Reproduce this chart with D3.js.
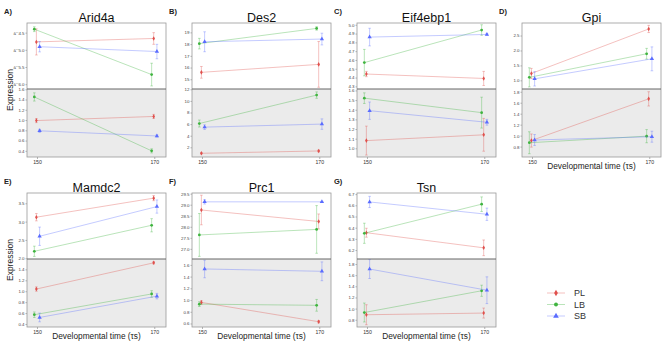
<html>
<head>
<script src="https://cdn.jsdelivr.net/npm/d3@7"></script>
<style>
  body { margin: 0; background: #fff; }
  text { font-family: "Liberation Sans", Arial, sans-serif; }
</style>
</head>
<body>
<script>
// panels, in reading order
var genes = ["Arid4a", "Des2", "Eif4ebp1", "Gpi", "Mamdc2", "Prc1", "Tsn"];
var panelLabels = ["A)", "B)", "C)", "D)", "E)", "F)", "G)"];
var times = [150, 170];
var groups = ["PL", "LB", "SB"];

// rows: PL, LB, SB ; columns: t=150, t=170
var arid4aTopMean = [[-4.77, -4.67], [-4.40, -5.72], [-4.91, -5.05]];
var arid4aTopErr  = [[0.38, 0.17], [0.07, 0.33], [0.15, 0.21]];
var arid4aBotMean = [[0.99, 1.07], [1.45, 0.40], [0.79, 0.69]];
var arid4aBotErr  = [[0.04, 0.04], [0.08, 0.04], [0.03, 0.02]];

var des2TopMean = [[15.59, 16.27], [18.04, 19.34], [18.2, 18.43]];
var des2TopErr  = [[0.5, 1.95], [0.45, 0.15], [0.85, 0.5]];
var des2BotMean = [[0.97, 1.37], [6.1, 11.0], [5.48, 6.0]];
var des2BotErr  = [[0.1, 0.15], [0.6, 0.55], [0.4, 0.9]];

var eif4ebp1TopMean = [[4.44, 4.39], [4.57, 4.94], [4.86, 4.89]];
var eif4ebp1TopErr  = [[0.03, 0.08], [0.15, 0.06], [0.1, 0.01]];
var eif4ebp1BotMean = [[1.08, 1.14], [1.52, 1.37], [1.39, 1.27]];
var eif4ebp1BotErr  = [[0.15, 0.17], [0.055, 0.16], [0.09, 0.03]];

var gpiTopMean = [[1.23, 2.72], [1.10, 1.89], [1.05, 1.72]];
var gpiTopErr  = [[0.17, 0.12], [0.32, 0.18], [0.24, 0.4]];
var gpiBotMean = [[0.91, 1.67], [0.87, 0.99], [0.92, 0.98]];
var gpiBotErr  = [[0.12, 0.13], [0.2, 0.12], [0.1, 0.1]];

var mamdc2TopMean = [[3.12, 3.64], [2.19, 2.9], [2.6, 3.41]];
var mamdc2TopErr  = [[0.1, 0.07], [0.14, 0.18], [0.25, 0.18]];
var mamdc2BotMean = [[1.04, 1.52], [0.57, 0.95], [0.52, 0.91]];
var mamdc2BotErr  = [[0.04, 0.02], [0.05, 0.06], [0.08, 0.05]];

var prc1TopMean = [[28.76, 28.24], [27.63, 27.88], [29.13, 29.13]];
var prc1TopErr  = [[0.67, 0.34], [0.97, 1.08], [0.1, 0.02]];
var prc1BotMean = [[0.96, 0.63], [0.93, 0.91], [1.53, 1.49]];
var prc1BotErr  = [[0.03, 0.02], [0.04, 0.1], [0.15, 0.16]];

var tsnTopMean = [[6.355, 6.22], [6.35, 6.61], [6.63, 6.52]];
var tsnTopErr  = [[0.04, 0.07], [0.09, 0.065], [0.05, 0.055]];
var tsnBotMean = [[0.89, 0.92], [0.93, 1.32], [1.71, 1.33]];
var tsnBotErr  = [[0.18, 0.09], [0.17, 0.1], [0.17, 0.24]];

// axis domains and tick labels per panel
var topDomains = [[-6.14, -4.22], [14.17, 19.8], [4.27, 5.02], [0.71, 2.92], [1.98, 3.78], [26.54, 29.53], [6.12, 6.71]];
var botDomains = [[0.28, 1.605], [0.33, 12.05], [0.91, 1.615], [0.61, 1.85], [0.345, 1.59], [0.54, 1.70], [0.67, 1.89]];
var topTicks = [[-6.0, -5.5, -5.0, -4.5], [15, 16, 17, 18, 19], [4.3, 4.4, 4.5, 4.6, 4.7, 4.8, 4.9, 5.0],
                [1.0, 1.5, 2.0, 2.5], [2.0, 2.5, 3.0, 3.5], [27.0, 27.5, 28.0, 28.5, 29.0, 29.5], [6.2, 6.3, 6.4, 6.5, 6.6, 6.7]];
var botTicks = [[0.4, 0.6, 0.8, 1.0, 1.2, 1.4, 1.6], [2, 4, 6, 8, 10, 12], [1.0, 1.1, 1.2, 1.3, 1.4, 1.5, 1.6],
                [0.8, 1.0, 1.2, 1.4, 1.6, 1.8], [0.4, 0.6, 0.8, 1.0, 1.2, 1.4], [0.6, 0.8, 1.0, 1.2, 1.4, 1.6], [0.8, 1.0, 1.2, 1.4, 1.6, 1.8]];
var tickFormats = [".1f", "d", ".1f", ".1f", ".1f", ".1f", ".1f"];

var topMeans = [arid4aTopMean, des2TopMean, eif4ebp1TopMean, gpiTopMean, mamdc2TopMean, prc1TopMean, tsnTopMean];
var topErrs  = [arid4aTopErr, des2TopErr, eif4ebp1TopErr, gpiTopErr, mamdc2TopErr, prc1TopErr, tsnTopErr];
var botMeans = [arid4aBotMean, des2BotMean, eif4ebp1BotMean, gpiBotMean, mamdc2BotMean, prc1BotMean, tsnBotMean];
var botErrs  = [arid4aBotErr, des2BotErr, eif4ebp1BotErr, gpiBotErr, mamdc2BotErr, prc1BotErr, tsnBotErr];

var colors = { PL: "#e0504c", LB: "#3fb43f", SB: "#5a6cff" };
var dodge = { PL: -0.1, LB: -0.45, SB: 0.45 };
var shapes = { PL: d3.symbolDiamond, LB: d3.symbolCircle, SB: d3.symbolTriangle };

var W = 666, H = 346;
var pw = 139, ph = 134, half = 66;

var svg = d3.select("body").append("svg")
  .attr("width", W).attr("height", H);

function drawHalf(g, x, y, means, errs) {
  groups.forEach(function(grp, gi) {
    var pts = times.map(function(t, ti) {
      return { t: t + dodge[grp], v: means[gi][ti], e: errs[gi][ti] };
    });
    var c = colors[grp];
    g.append("path")
      .datum(pts)
      .attr("fill", "none")
      .attr("stroke", c)
      .attr("stroke-opacity", 0.45)
      .attr("stroke-width", 0.8)
      .attr("d", d3.line().x(function(d) { return x(d.t); }).y(function(d) { return y(d.v); }));
    var eb = g.selectAll(null).data(pts).enter().append("g")
      .attr("stroke", c).attr("stroke-opacity", 0.5).attr("stroke-width", 0.7);
    eb.append("line")
      .attr("x1", function(d) { return x(d.t); }).attr("x2", function(d) { return x(d.t); })
      .attr("y1", function(d) { return y(d.v - d.e); }).attr("y2", function(d) { return y(d.v + d.e); });
    [-1, 1].forEach(function(s) {
      eb.append("line")
        .attr("x1", function(d) { return x(d.t) - 1.3; }).attr("x2", function(d) { return x(d.t) + 1.3; })
        .attr("y1", function(d) { return y(d.v + s * d.e); }).attr("y2", function(d) { return y(d.v + s * d.e); });
    });
    g.selectAll(null).data(pts).enter().append("path")
      .attr("transform", function(d) { return "translate(" + x(d.t) + "," + y(d.v) + ")"; })
      .attr("d", d3.symbol().type(shapes[grp]).size(grp === "SB" ? 8 : 6))
      .attr("fill", c);
  });
}

genes.forEach(function(gene, i) {
  var col = i % 4, row = Math.floor(i / 4);
  var left = 27 + 165 * col, top = 23 + 170 * row;
  var g = svg.append("g");

  var x = d3.scaleLinear().domain([148.3, 172]).range([left, left + pw]);
  var yTop = d3.scaleLinear().domain(topDomains[i]).range([top + half, top]);
  var yBot = d3.scaleLinear().domain(botDomains[i]).range([top + ph, top + half]);

  g.append("rect").attr("x", left).attr("y", top + half).attr("width", pw).attr("height", ph - half)
    .attr("fill", "#ebebeb");

  var f = d3.format(tickFormats[i]);
  var fmt = function(v) { return f(v).replace("\u2212", "-"); };
  [[yTop, topTicks[i]], [yBot, botTicks[i]]].forEach(function(p) {
    var ax = g.append("g").attr("transform", "translate(" + left + ",0)")
      .call(d3.axisLeft(p[0]).tickValues(p[1]).tickFormat(fmt).tickSize(1.5).tickPadding(1));
    ax.select(".domain").remove();
    ax.selectAll("line").attr("stroke", "#666").attr("stroke-width", 0.5);
    ax.selectAll("text").attr("font-size", 4.4).attr("fill", "#444").attr("font-family", "Liberation Sans, Arial, sans-serif");
  });

  var xa = g.append("g").attr("transform", "translate(0," + (top + ph) + ")")
    .call(d3.axisBottom(x).tickValues(times).tickSize(2).tickPadding(1));
  xa.select(".domain").remove();
  xa.selectAll("line").attr("stroke", "#666").attr("stroke-width", 0.5);
  xa.selectAll("text").attr("font-size", 5.2).attr("fill", "#333").attr("font-family", "Liberation Sans, Arial, sans-serif");

  drawHalf(g, x, yTop, topMeans[i], topErrs[i]);
  drawHalf(g, x, yBot, botMeans[i], botErrs[i]);

  g.append("rect").attr("x", left).attr("y", top).attr("width", pw).attr("height", ph)
    .attr("fill", "none").attr("stroke", "#9a9a9a").attr("stroke-width", 0.8);
  g.append("line").attr("x1", left).attr("x2", left + pw)
    .attr("y1", top + half).attr("y2", top + half)
    .attr("stroke", "#666").attr("stroke-width", 1);

  g.append("text").attr("x", left + pw / 2).attr("y", top - 1.5)
    .attr("text-anchor", "middle").attr("font-size", 12.5).attr("fill", "#111").text(gene);
  g.append("text").attr("x", left - 23).attr("y", top - 9)
    .attr("font-family", "Liberation Serif, serif").attr("font-weight", "bold")
    .attr("font-size", 7.5).attr("fill", "#222").text(panelLabels[i]);

  if (col === 0) {
    g.append("text")
      .attr("transform", "translate(" + (left - 14.5) + "," + (top + ph / 2) + ") rotate(-90)")
      .attr("text-anchor", "middle").attr("font-size", 8.5).attr("fill", "#222").text("Expression");
  }
  if (row === 1 || col === 3) {
    g.append("text").attr("x", left + pw / 2).attr("y", top + ph + 12)
      .attr("text-anchor", "middle").attr("font-size", 8.3).attr("fill", "#222")
      .text("Developmental time (\u03c4s)");
  }
});

// legend
var legend = svg.append("g");
groups.forEach(function(grp, gi) {
  var ly = 293 + gi * 11.5;
  legend.append("line").attr("x1", 547).attr("x2", 565).attr("y1", ly).attr("y2", ly)
    .attr("stroke", colors[grp]).attr("stroke-opacity", 0.45).attr("stroke-width", 0.8);
  legend.append("path").attr("transform", "translate(556," + ly + ")")
    .attr("d", d3.symbol().type(shapes[grp]).size(grp === "SB" ? 14 : 12))
    .attr("fill", colors[grp]);
  legend.append("text").attr("x", 574).attr("y", ly + 3.3)
    .attr("font-size", 9).attr("fill", "#333").text(grp);
});
</script>
</body>
</html>
